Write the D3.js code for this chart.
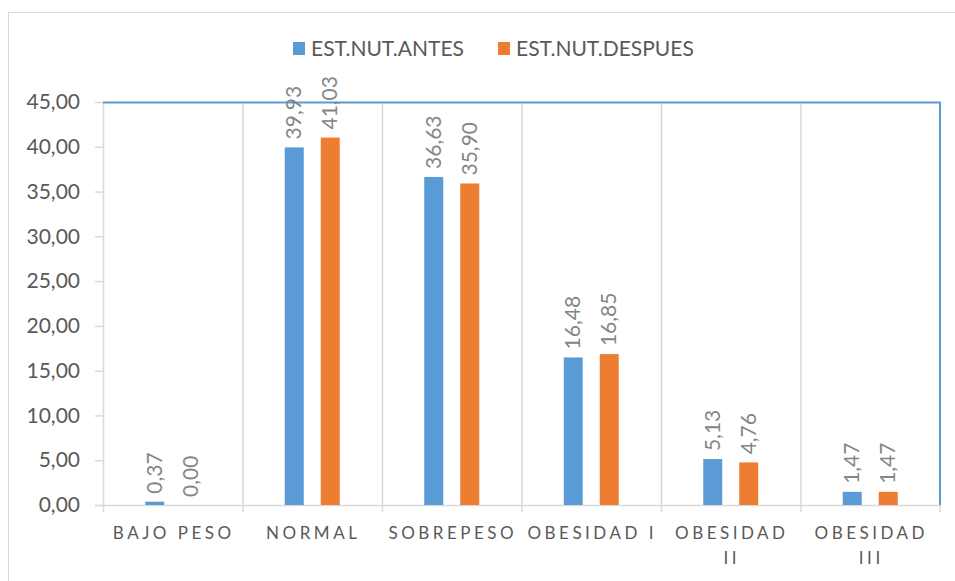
<!DOCTYPE html>
<html>
<head>
<meta charset="utf-8">
<script src="https://cdn.jsdelivr.net/npm/d3@7"></script>
<style>
  body { margin: 0; background: #fff; }
  text { font-family: Lato, "Open Sans", sans-serif; }
</style>
</head>
<body>
<svg id="chart" width="955" height="581"></svg>
<script>
// data
var categories = ["BAJO PESO", "NORMAL", "SOBREPESO", "OBESIDAD I", "OBESIDAD II", "OBESIDAD III"];
var antes = [0.37, 39.93, 36.63, 16.48, 5.13, 1.47];
var despues = [0.00, 41.03, 35.90, 16.85, 4.76, 1.47];
var seriesNames = ["EST.NUT.ANTES", "EST.NUT.DESPUES"];
var seriesColors = ["#5b9bd5", "#ed7d31"];
var yTicks = [0, 5, 10, 15, 20, 25, 30, 35, 40, 45];

var svg = d3.select("#chart");
var m = {left: 103, right: 940, top: 102, bottom: 505};

/*========== chart frame ===========*/
svg.append("rect")
    .attr("x", 8.5).attr("y", 12.5)
    .attr("width", 960).attr("height", 600)
    .attr("fill", "none").attr("stroke", "#d9d9d9");

var x = d3.scaleBand().domain(categories).range([m.left, m.right]);
var y = d3.scaleLinear().domain([0, 45]).range([m.bottom, m.top]);
var fmt = function (v) { return d3.format(".2f")(v).replace(".", ","); };

/*========== category separators ===========*/
var seps = categories.map(function (c) { return x(c); });
svg.append("g").selectAll("line").data(seps).enter()
    .append("line")
    .attr("x1", function (d) { return d + 0.5; }).attr("x2", function (d) { return d + 0.5; })
    .attr("y1", m.top).attr("y2", m.bottom + 7)
    .attr("stroke", "#d9d9d9").attr("stroke-width", 1.5);
svg.append("line")
    .attr("x1", m.right).attr("x2", m.right)
    .attr("y1", m.bottom).attr("y2", m.bottom + 7)
    .attr("stroke", "#d9d9d9").attr("stroke-width", 1.5);

// x axis line
svg.append("line")
    .attr("x1", m.left - 8).attr("x2", m.right)
    .attr("y1", m.bottom + 0.5).attr("y2", m.bottom + 0.5)
    .attr("stroke", "#d9d9d9").attr("stroke-width", 1.5);

/*========== y axis ===========*/
var yAxis = svg.append("g")
    .attr("transform", "translate(" + m.left + ",0)")
    .call(d3.axisLeft(y).tickValues(yTicks).tickFormat(fmt).tickSize(8).tickPadding(15));
yAxis.select(".domain").remove();
yAxis.selectAll(".tick line").attr("stroke", "#d9d9d9").attr("stroke-width", 1.5);
yAxis.selectAll(".tick text")
    .attr("fill", "#595959")
    .style("font-size", "21px")
    .style("font-family", "Lato, sans-serif");

// plot area border (blue top + right)
svg.append("path")
    .attr("d", "M" + m.left + "," + (m.top + 0.5) + "H" + m.right + "V" + m.bottom)
    .attr("fill", "none").attr("stroke", "#5b9bd5").attr("stroke-width", 2);

/*========== bars ===========*/
var barW = 19, offset = 18;
var groups = [antes, despues];
groups.forEach(function (vals, s) {
    var dx = (s === 0 ? -offset : offset);
    var g = svg.append("g");
    g.selectAll("rect").data(vals).enter()
        .append("rect")
        .attr("x", function (d, i) { return x(categories[i]) + x.bandwidth() / 2 + dx - barW / 2; })
        .attr("y", function (d) { return y(d); })
        .attr("width", barW)
        .attr("height", function (d) { return y(0) - y(d); })
        .attr("fill", seriesColors[s]);
    g.selectAll("text").data(vals).enter()
        .append("text")
        .text(function (d) { return fmt(d); })
        .attr("transform", function (d, i) {
            var cx = x(categories[i]) + x.bandwidth() / 2 + dx + 7;
            return "translate(" + cx + "," + (y(d) - 8) + ") rotate(-90)";
        })
        .attr("fill", "#858585")
        .style("font-size", "21px");
});

/*========== x labels ===========*/
var xl = svg.append("g").selectAll("text").data(categories).enter()
    .append("text")
    .attr("text-anchor", "middle")
    .attr("fill", "#595959")
    .style("font-size", "17px")
    .style("letter-spacing", "3.5px");
xl.each(function (d) {
    var t = d3.select(this);
    var cx = x(d) + x.bandwidth() / 2 + 1;
    var lines = (d === "OBESIDAD II" || d === "OBESIDAD III") ? [d.split(" ")[0], d.split(" ")[1]] : [d];
    lines.forEach(function (ln, k) {
        t.append("tspan").attr("x", cx).attr("y", 539 + k * 25).text(ln);
    });
});

/*========== legend ===========*/
var legendX = [293, 498];
var leg = svg.append("g").selectAll("g").data(seriesNames).enter()
    .append("g")
    .attr("transform", function (d, i) { return "translate(" + legendX[i] + ",42)"; });
leg.append("rect").attr("width", 12).attr("height", 13)
    .attr("fill", function (d, i) { return seriesColors[i]; });
leg.append("text").attr("x", 18).attr("y", 14)
    .text(function (d) { return d; })
    .attr("fill", "#595959")
    .style("font-size", "21px");
</script>
</body>
</html>
